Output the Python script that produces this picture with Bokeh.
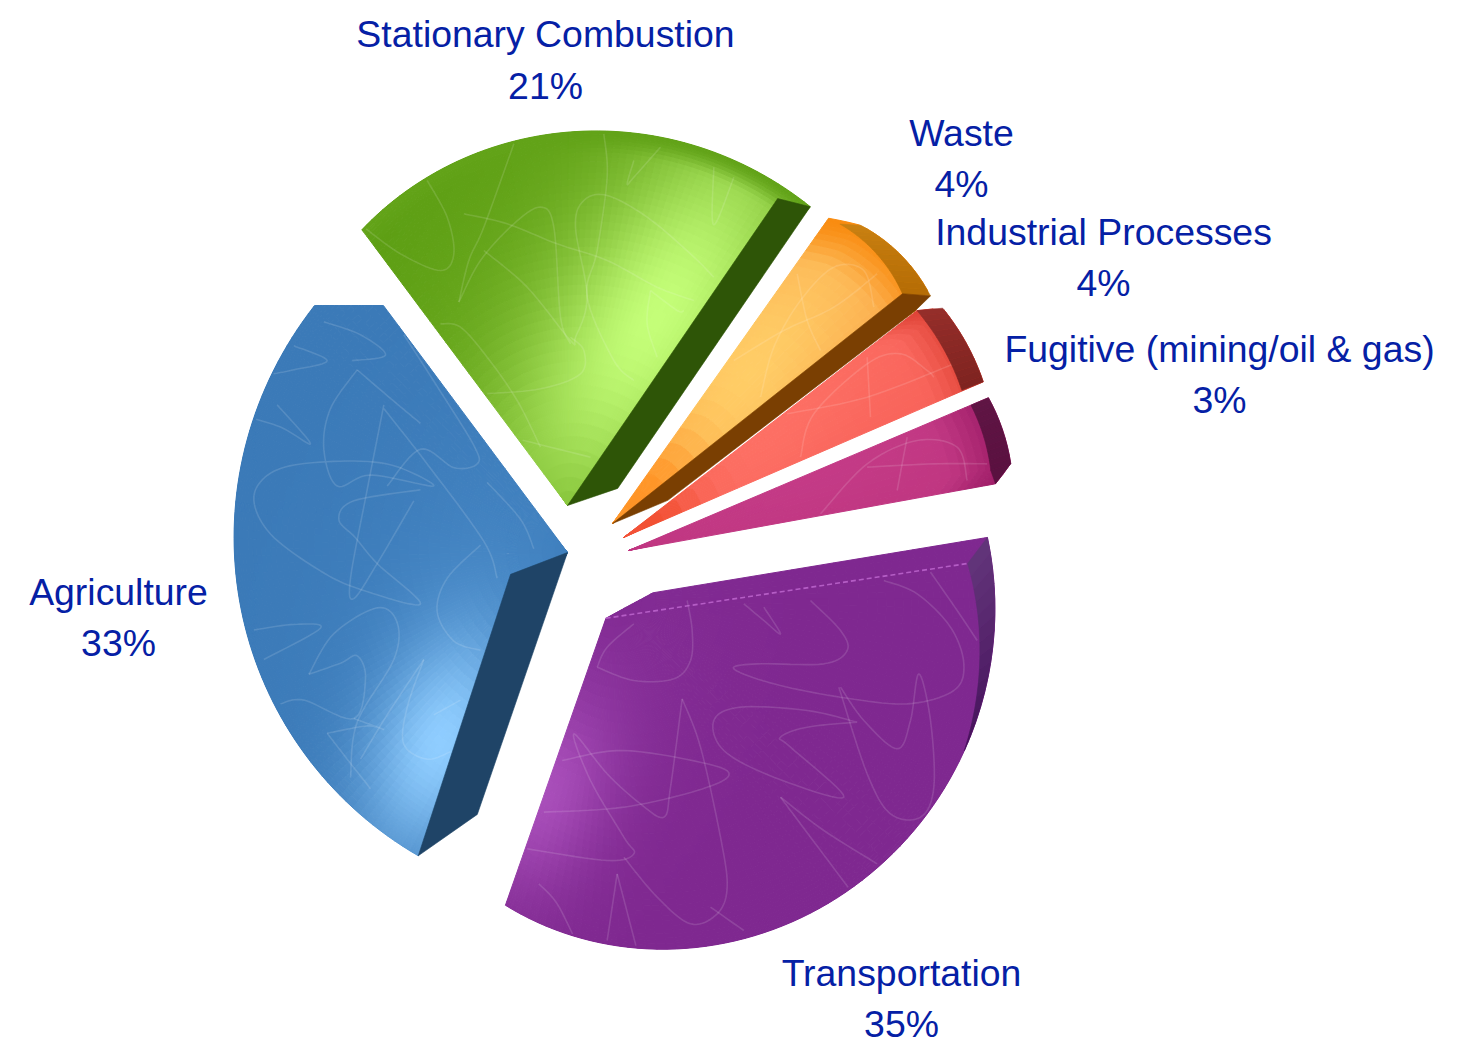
import math
from bokeh.plotting import figure
from bokeh.models import Range1d, ColumnDataSource
from bokeh.core.properties import value
from bokeh.embed import file_html
from bokeh.resources import INLINE

# ---------- data ----------
categories = ["Fugitive (mining/oil & gas)", "Industrial Processes", "Waste",
              "Stationary Combustion", "Agriculture", "Transportation"]
shares = [3, 4, 4, 21, 33, 35]
START_ANGLE = 10.0

# ---------- layout and style (one entry per category, same order) ----------
apex = [(628, 550), (623, 537), (612, 523), (567, 505), (567, 552), (612, 599)]
edge_skew = [(0.3, 2.2), (2.6, 2.5), (-0.1, 5.1), (1.3, 1.5), (1.5, -0.2), (6.7, -0.6)]
rim_radii = [(392, 393, 391), (392, 394, 393), (391, 394, 388), (385, 374, 344), (360, 332, 338), (324, 375, 380)]
chamfer_low = [(2.5, 373), (0, 0), (0.5, 370), (0, 0), (0, 0), (0, 0)]
chamfer_high = [(0, 0), (2.0, 371), (4.5, 374), (0, 0), (0, 0), (0, 0)]
clip_planes = [[], [], [], [], [(0, 305, 0, 1)], [(605, 618, 26, 48)]]
# band: start fraction of rim, inner start offset, inner end offset, width low, width high, colour low, colour high
bands = [(0, -0.3, 0, 21, 19, "#5a1140", "#5f1544"),
         (0, 0.1, 2.0, 23, 22, "#7e2320", "#952e2a"),
         (0, 2.8, 2.6, 21, 12, "#b56c05", "#c98112"),
         None, None,
         (0.725, 0, -3.6, 0, 23, "#45105a", "#62357a")]
side_offsets = [[(2.2, 371), (2.5, 392), (0, 373)],
                [],
                [(0, 0), (3.3, 370), (0.5, 391), (0, 370), (-12.4, 60)],
                [(0, 0), (4.7, 372), (0, 385), (-32.1, 53)],
                [(0, 0), (-42.8, 61), (0, 338), (7.2, 277)],
                []]
side_anchor = ["low", "low", "low", "low", "high", "low"]
side_color = ["#5a1140", "#000000", "#7a3f02", "#2e5507", "#1f4467", "#000000"]
base_color = ["#bf3580", "#f8635a", "#fba548", "#5b9d12", "#3b7ab8", "#7f2890"]
rim_shade = [("#a11f6a", 0.82), ("#e04437", 0.84), ("#f98c10", 0.84), ("#62a318", 0.93), None, None]
# blob: cx, cy, along, across, direction, colour, strength
blobs = [[(800, 470, 120, 40, 15, "#c53c88", 0.8)],
         [(760, 440, 130, 40, 40, "#fd6f64", 1.0), (650, 525, 40, 30, 40, "#f04a28", 0.8)],
         [(745, 375, 130, 55, 52, "#ffcf68", 0.95), (640, 495, 50, 35, 52, "#ff9020", 0.9)],
         [(610, 350, 190, 130, 58, "#7ab52a", 0.6), (655, 318, 150, 68, 58, "#c4fe78", 1.0)],
         [(470, 620, 150, 90, 70, "#4a8dcc", 0.5), (440, 742, 80, 46, 70, "#8fcdff", 1.0)],
         [(600, 680, 110, 80, 70, "#87309a", 0.5), (542, 792, 72, 46, 70, "#ad52be", 0.9)]]
grid_size = [(10, 30), (12, 30), (14, 30), (64, 44), (76, 44), (76, 44)]

# faint scribbled texture: origin x, y, scale x, y, strokes
texture = [
    (600, 200, 3, 3, [[(660, 940), (800, 790), (950, 720), (1070, 740), (1100, 840)],
                      [(920, 710), (890, 870)], [(800, 800), (1000, 790), (1160, 790)]]),
    (600, 200, 3, 3, [[(600, 770), (640, 640), (800, 490), (900, 460), (980, 510), (1000, 530)],
                      [(800, 470), (810, 650)], [(560, 640), (800, 590), (1060, 490)]]),
    (600, 200, 3, 3, [[(480, 590), (520, 440), (600, 300), (700, 200), (790, 210), (820, 320)],
                      [(590, 220), (620, 360), (660, 450)], [(400, 480), (550, 390), (700, 320), (830, 220)]]),
    (340, 110, 3, 3, [[(70, 350), (180, 430), (300, 480), (340, 430), (320, 320), (260, 210)],
                      [(355, 575), (385, 450), (430, 350), (520, 100)],
                      [(370, 310), (500, 340), (650, 400), (800, 450), (950, 530), (1060, 570)],
                      [(355, 575), (420, 450), (520, 340), (600, 290), (640, 350), (660, 620), (690, 700)],
                      [(430, 420), (560, 530), (690, 690), (705, 680), (740, 560), (705, 350), (730, 270), (800, 255), (920, 320), (1050, 430), (1120, 500)],
                      [(300, 640), (360, 650), (440, 740), (530, 870), (600, 1010)],
                      [(430, 850), (600, 835), (720, 790), (730, 720), (690, 680)],
                      [(790, 70), (800, 200), (770, 420), (740, 560), (820, 750), (880, 810)],
                      [(930, 540), (1010, 600), (1030, 600)], [(930, 540), (920, 640), (950, 740)],
                      [(960, 110), (880, 200), (860, 220), (880, 150)],
                      [(1180, 200), (1130, 330), (1115, 320), (1120, 170)], [(510, 980), (750, 1040)]]),
    (220, 290, 3, 2.71, [[(310, 85), (420, 120), (495, 175), (395, 190)],
                         [(130, 230), (220, 215), (320, 190), (220, 150)],
                         [(70, 340), (180, 370), (270, 415), (170, 310)],
                         [(410, 215), (330, 320), (310, 430), (350, 530), (450, 500), (640, 530), (500, 470), (300, 465), (160, 490), (100, 560), (150, 660), (300, 760), (420, 810), (600, 850), (470, 740), (405, 670), (355, 620), (400, 570), (600, 540)],
                         [(410, 215), (520, 300), (600, 360)],
                         [(490, 310), (440, 540), (390, 780), (400, 835), (470, 740), (580, 570)],
                         [(490, 320), (620, 470), (790, 680), (830, 780)],
                         [(780, 690), (680, 780), (650, 870), (700, 950), (780, 975)],
                         [(100, 920), (220, 905), (300, 915), (130, 1000)],
                         [(265, 1040), (340, 930), (470, 860), (530, 900), (520, 1000), (410, 1170), (390, 1320)],
                         [(265, 1040), (360, 1010), (410, 990), (435, 1050), (400, 1160), (250, 1110), (180, 1120)],
                         [(320, 1200), (440, 1180), (490, 1190), (400, 1160)], [(320, 1200), (380, 1270), (450, 1350)],
                         [(610, 1000), (560, 1130), (550, 1230), (620, 1270), (690, 1250)],
                         [(610, 1000), (500, 1150), (420, 1270)], [(640, 1150), (720, 1110)],
                         [(800, 520), (900, 620), (940, 700)],
                         [(550, 120), (650, 260), (760, 420), (770, 470), (700, 480), (600, 430), (500, 530)]]),
    (490, 520, 3, 3, [[(320, 440), (430, 480), (550, 475), (600, 420), (605, 330), (590, 240)],
                      [(430, 310), (350, 380), (320, 440)], [(760, 250), (820, 300), (870, 340), (820, 260)],
                      [(960, 240), (1050, 330), (1070, 390), (1000, 430), (800, 430), (730, 445), (850, 490), (1050, 530), (1250, 550), (1390, 510), (1420, 430), (1380, 320), (1280, 220), (1180, 180)],
                      [(1320, 155), (1400, 270), (1460, 360)],
                      [(1050, 500), (1120, 600), (1220, 685), (1260, 600), (1285, 460), (1320, 600), (1330, 800), (1290, 890), (1200, 880), (1130, 760), (1045, 500)],
                      [(1100, 605), (950, 570), (750, 560), (670, 600), (700, 690), (850, 770), (1060, 830), (900, 680), (870, 650), (950, 620), (1100, 605)],
                      [(870, 830), (960, 950), (1080, 1110)], [(870, 830), (1000, 930), (1160, 1030)],
                      [(575, 535), (540, 800), (520, 890), (450, 850), (350, 760), (250, 640), (300, 780), (400, 950), (430, 1000), (350, 1020), (110, 985)],
                      [(575, 535), (630, 680), (690, 950), (710, 1100), (680, 1180), (600, 1210), (500, 1130), (400, 1010)],
                      [(215, 720), (400, 690), (650, 730), (715, 765), (620, 810), (400, 860), (160, 875)],
                      [(145, 1090), (200, 1150), (260, 1270)], [(380, 1060), (350, 1260)], [(380, 1060), (440, 1290)],
                      [(660, 1160), (760, 1230)]]),
]

label_centers = [(1219, 348, 399), (1103, 231, 282), (961, 132, 183), (545, 33, 85), (118, 591, 642), (901, 972, 1023)]
LABEL_COLOR = "#0520a5"
LABEL_FONT = "Liberation Sans"
LABEL_SIZE = "37.4px"


# ---------- helpers ----------
def rgb(h):
    return tuple(int(h[i:i + 2], 16) for i in (1, 3, 5))


def hexc(c):
    return "#%02x%02x%02x" % tuple(max(0, min(255, int(round(v)))) for v in c)


def mix(a, b, w):
    return tuple(a[i] + (b[i] - a[i]) * w for i in range(3))


def polar(o, a, r):
    t = math.radians(a)
    return o[0] + r * math.cos(t), o[1] - r * math.sin(t)


def clip_half(poly, plane):
    px, py, nx, ny = plane
    out = []
    for i in range(len(poly)):
        a, b = poly[i], poly[(i + 1) % len(poly)]
        da = (a[0] - px) * nx + (a[1] - py) * ny
        db = (b[0] - px) * nx + (b[1] - py) * ny
        if da >= 0:
            out.append(a)
        if (da >= 0) != (db >= 0):
            k = da / (da - db)
            out.append((a[0] + (b[0] - a[0]) * k, a[1] + (b[1] - a[1]) * k))
    return out


def inside(poly, x, y):
    c = False
    for i in range(len(poly)):
        x1, y1 = poly[i]
        x2, y2 = poly[(i + 1) % len(poly)]
        if (y1 > y) != (y2 > y) and x < x1 + (y - y1) * (x2 - x1) / (y2 - y1):
            c = not c
    return c


def smooth(points, n=10):
    pts = [points[0]] + list(points) + [points[-1]]
    out = []
    for i in range(1, len(pts) - 2):
        p0, p1, p2, p3 = pts[i - 1], pts[i], pts[i + 1], pts[i + 2]
        for k in range(n):
            t = k / n
            out.append(tuple(0.5 * (2 * p1[j] + (p2[j] - p0[j]) * t + (2 * p0[j] - 5 * p1[j] + 4 * p2[j] - p3[j]) * t * t
                                    + (3 * p1[j] - p0[j] - 3 * p2[j] + p3[j]) * t ** 3) for j in (0, 1)))
    out.append(points[-1])
    return out


def radial_step(k, n):
    # finer rings toward the rim, where the shading changes fastest
    return 1 - (1 - k / n) ** 1.7


p = figure(width=1460, height=1050, x_range=Range1d(0, 1460), y_range=Range1d(1050, 0),
           toolbar_location=None, output_backend="svg", min_border=0)
p.axis.visible = False
p.grid.visible = False
p.outline_line_color = None
p.background_fill_color = "white"
p.border_fill_color = "white"

cell_x, cell_y, cell_c = [], [], []
tex_x, tex_y = [], []
over_x, over_y, over_c = [], [], []

total = sum(shares)
cum = START_ANGLE
for i, share in enumerate(shares):
    span = 360.0 * share / total
    a_lo = cum + edge_skew[i][0]
    a_hi = cum + span + edge_skew[i][1]
    cum += span
    o = apex[i]
    r0, r1, r2 = rim_radii[i]
    rim_a = a_lo + chamfer_low[i][0]
    rim_b = a_hi - chamfer_high[i][0]

    def rim(a):
        t = (a - rim_a) / (rim_b - rim_a)
        return (r0 * (t - .5) * (t - 1) / .5 + r1 * t * (t - 1) / -.25 + r2 * t * (t - .5) / .5)

    def outline(a):
        if a < rim_a:
            k = (a - a_lo) / (rim_a - a_lo)
            return chamfer_low[i][1] + (rim(rim_a) - chamfer_low[i][1]) * k
        if a > rim_b:
            k = (a - rim_b) / (a_hi - rim_b)
            return rim(rim_b) + (chamfer_high[i][1] - rim(rim_b)) * k
        return rim(a)

    def shade(x, y, f):
        c = rgb(base_color[i])
        for cx, cy, sa, sb, d, col, st in blobs[i]:
            t = math.radians(d)
            u = (x - cx) * math.cos(t) - (y - cy) * math.sin(t)
            v = (x - cx) * math.sin(t) + (y - cy) * math.cos(t)
            c = mix(c, rgb(col), st * math.exp(-0.5 * (u * u / sa ** 2 + v * v / sb ** 2)))
        if rim_shade[i]:
            col, f0 = rim_shade[i]
            if f > f0:
                w = (f - f0) / (1 - f0)
                c = mix(c, rgb(col), w * w * (3 - 2 * w))
        return hexc(c)

    na, nr = grid_size[i]
    for ia in range(na):
        a0 = a_lo + (a_hi - a_lo) * ia / na
        a1 = a_lo + (a_hi - a_lo) * (ia + 1) / na
        for ir in range(nr):
            f0, f1 = radial_step(ir, nr), radial_step(ir + 1, nr)
            quad = [polar(o, a0, outline(a0) * f0), polar(o, a1, outline(a1) * f0),
                    polar(o, a1, outline(a1) * f1), polar(o, a0, outline(a0) * f1)]
            for plane in clip_planes[i]:
                quad = clip_half(quad, plane)
            if len(quad) < 3:
                continue
            am = (a0 + a1) / 2
            mx, my = polar(o, am, outline(am) * (f0 + f1) / 2)
            cell_x.append([q[0] for q in quad])
            cell_y.append([q[1] for q in quad])
            cell_c.append(shade(mx, my, (f0 + f1) / 2))

    # texture strokes kept inside the slice
    steps = 120
    face = [o] + [polar(o, a_lo + (a_hi - a_lo) * k / steps, outline(a_lo + (a_hi - a_lo) * k / steps)) for k in range(steps + 1)]
    for plane in clip_planes[i]:
        face = clip_half(face, plane)
    ox, oy, sx, sy, strokes = texture[i]
    for stroke in strokes:
        pts = smooth([(ox + q[0] / sx, oy + q[1] / sy) for q in stroke])
        run = []
        for q in pts:
            if inside(face, q[0], q[1]):
                run.append(q)
            else:
                if len(run) > 1:
                    tex_x.append([r[0] for r in run])
                    tex_y.append([r[1] for r in run])
                run = []
        if len(run) > 1:
            tex_x.append([r[0] for r in run])
            tex_y.append([r[1] for r in run])

    # rim band
    if bands[i]:
        ts, i0, i1, w0, w1, c0, c1 = bands[i]
        n = 14
        band_a = rim_a + (rim_b - rim_a) * ts
        for k in range(n):
            t0, t1 = k / n, (k + 1) / n
            ao0 = band_a + (rim_b - band_a) * t0
            ao1 = band_a + (rim_b - band_a) * t1
            ai0 = (band_a + i0) + (rim_b + i1 - band_a - i0) * t0
            ai1 = (band_a + i0) + (rim_b + i1 - band_a - i0) * t1
            q = [polar(o, ao0, rim(ao0)), polar(o, ao1, rim(ao1)),
                 polar(o, ai1, rim(ao1) - (w0 + (w1 - w0) * t1)),
                 polar(o, ai0, rim(ao0) - (w0 + (w1 - w0) * t0))]
            over_x.append([v[0] for v in q])
            over_y.append([v[1] for v in q])
            over_c.append(hexc(mix(rgb(c0), rgb(c1), (t0 + t1) / 2)))

    # side wall
    if side_offsets[i]:
        anchor = a_lo if side_anchor[i] == "low" else a_hi
        q = [polar(o, anchor + d, r) for d, r in side_offsets[i]]
        over_x.append([v[0] for v in q])
        over_y.append([v[1] for v in q])
        over_c.append(side_color[i])

    if categories[i] == "Transportation":
        crease = [polar(o, a_lo - 0.7, 20), polar(o, a_hi - 3.6, 358)]
        crease_x, crease_y = [v[0] for v in crease], [v[1] for v in crease]

src = ColumnDataSource(dict(x=cell_x, y=cell_y, c=cell_c))
p.patches("x", "y", source=src, fill_color="c", line_color="c", line_width=1.0)
p.multi_line(tex_x, tex_y, line_color="white", line_alpha=0.13, line_width=1.6)
src2 = ColumnDataSource(dict(x=over_x, y=over_y, c=over_c))
p.patches("x", "y", source=src2, fill_color="c", line_color="c", line_width=0.6)
p.line(crease_x, crease_y, line_color="#c26ad2", line_width=1.6, line_dash="5 3", line_alpha=0.8)

tx, ty, tt = [], [], []
for name, share, (cx, y1, y2) in zip(categories, shares, label_centers):
    tx += [cx, cx]
    ty += [y1, y2]
    tt += [name, f"{share}%"]
p.text(tx, ty, text=tt, text_font=value(LABEL_FONT), text_font_size=value(LABEL_SIZE),
       text_color=LABEL_COLOR, text_align="center", text_baseline="middle")

open("out.html", "w").write(file_html(p, INLINE))
